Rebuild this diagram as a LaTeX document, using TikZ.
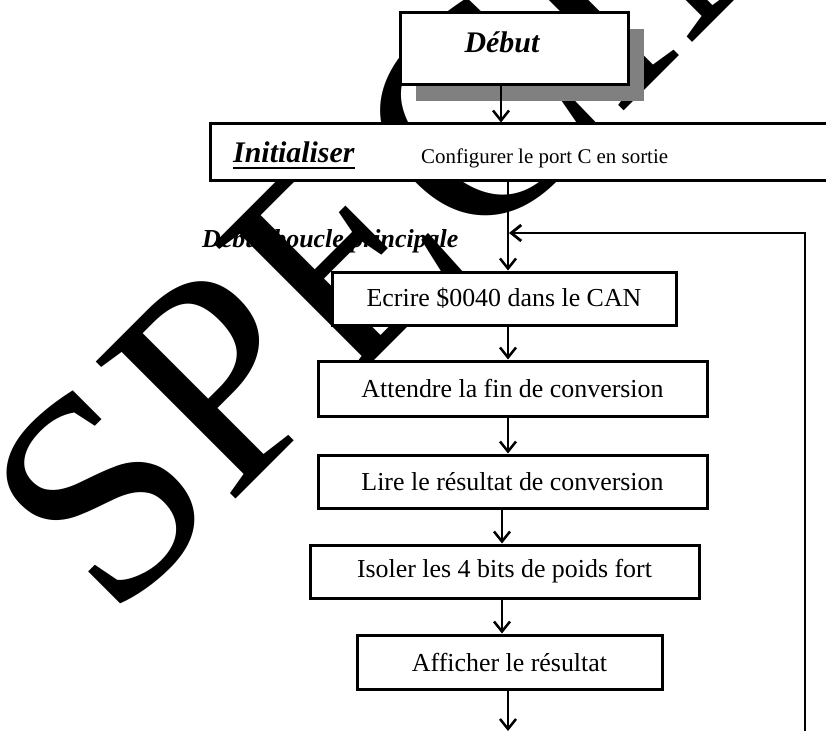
\documentclass[tikz,border=0pt]{standalone}
\usepackage{fontspec}
\setmainfont{Liberation Serif}
\usetikzlibrary{arrows.meta}
\definecolor{shadowgray}{RGB}{128,128,128}

\begin{document}
\begin{tikzpicture}[x=1bp,y=-1bp,
  stepbox/.style={draw=black, line width=3bp, fill=white, inner sep=0pt,
    font=\fontsize{26}{30}\selectfont},
  flow/.style={line width=2.5bp, -{Straight Barb[length=10bp,width=16bp]}},
  heading/.style={font=\fontsize{30}{34}\selectfont\bfseries\itshape, inner sep=0pt},
  stamp/.style={font=\fontsize{300}{300}\selectfont, inner sep=0pt, text=black},
]
\useasboundingbox[fill=white] (0,0) rectangle (826,731);
\clip (0,0) rectangle (826,731);

% label of the main loop entry
\node[font=\fontsize{26}{30}\selectfont\bfseries\itshape, anchor=base west, inner sep=0pt]
  (looplbl) at (202,247) {Début boucle principale};

% stamp lettering across the sheet
\node[stamp, anchor=base west, rotate=45] (stamp) at (111,624) {SPECIMEN};

% start block with its shadow
\fill[shadowgray] (416,29) rectangle (644,101);
\node[stepbox, minimum width=228bp, minimum height=72bp] (start) at (514,49) {};
\node[heading, anchor=base] (startlbl) at (502,53) {Début};

% initialisation block
\node[stepbox, minimum width=629bp, minimum height=56bp] (init) at (525.5,152) {};
\node[heading, anchor=base west] (initlbl) at (233,163) {Initialiser};
\draw[line width=2.4bp] ([yshift=-5bp]initlbl.base west) -- ([yshift=-5bp]initlbl.base east);
\node[font=\fontsize{21}{25}\selectfont, anchor=base west, inner sep=0pt]
  (initcfg) at (421,164) {Configurer le port C en sortie};

% processing steps
\node[stepbox, minimum width=344bp, minimum height=53bp] (write) at (504,298.5) {Ecrire \$0040 dans le CAN};
\node[stepbox, minimum width=389bp, minimum height=55bp] (wait) at (512.5,388.5) {Attendre la fin de conversion};
\node[stepbox, minimum width=389bp, minimum height=53bp] (read) at (512.5,481.5) {Lire le résultat de conversion};
\node[stepbox, minimum width=389bp, minimum height=53bp] (mask) at (504.5,571.5) {Isoler les 4 bits de poids fort};
\node[stepbox, minimum width=305bp, minimum height=54bp] (show) at (509.5,662) {Afficher le résultat};

% vertical axes of the connectors
\coordinate (axA) at (501,0);
\coordinate (axB) at (508,0);
\coordinate (axC) at (502,0);
\coordinate (loopjoin) at (509,233);
\coordinate (loopfoot) at (805,760);
\coordinate (exit) at (508,731);

\draw[flow] (start.south -| axA) -- (init.north -| axA);
\draw[flow] (init.south -| axB) -- (write.north -| axB);
\draw[flow] (write.south -| axB) -- (wait.north -| axB);
\draw[flow] (wait.south -| axB) -- (read.north -| axB);
\draw[flow] (read.south -| axC) -- (mask.north -| axC);
\draw[flow] (mask.south -| axC) -- (show.north -| axC);
\draw[flow] (show.south -| axB) -- (exit);
\draw[flow, line width=2.8bp] (loopfoot) |- (loopjoin);
\end{tikzpicture}
\end{document}
